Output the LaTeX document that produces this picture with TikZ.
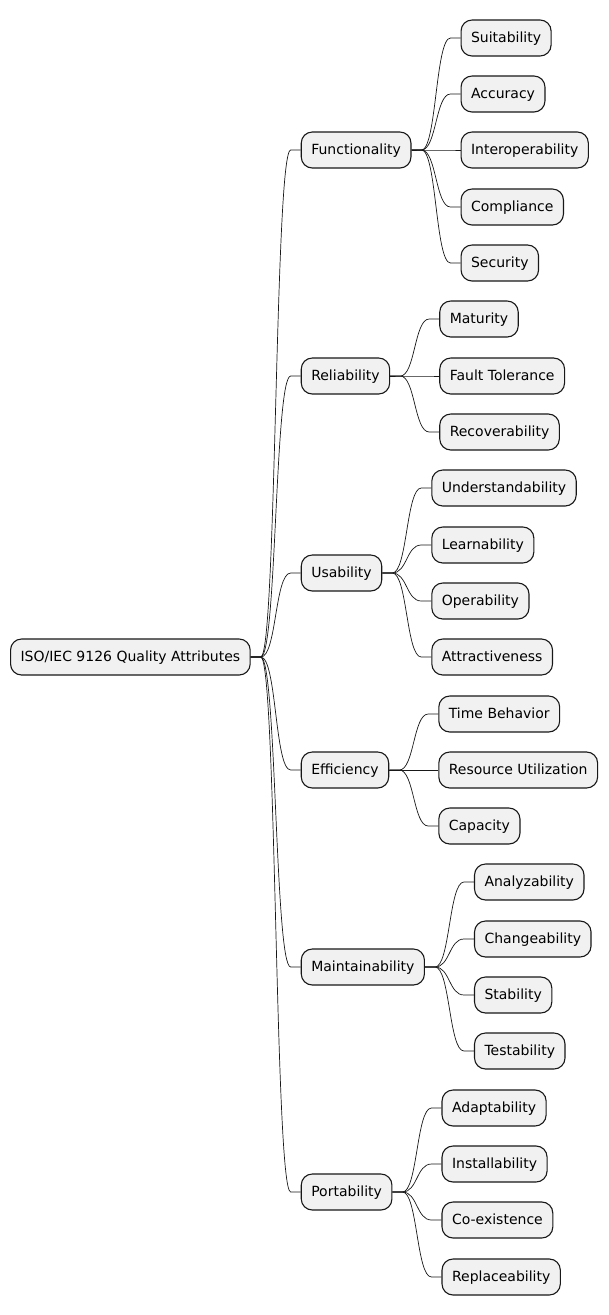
\documentclass[tikz,border=0pt]{standalone}
\usepackage{fontspec}
\setmainfont{DejaVu Sans}
\usetikzlibrary{calc}
\definecolor{NodeFill}{HTML}{F1F1F1}
\definecolor{Ink}{HTML}{181818}
\begin{document}
\begin{tikzpicture}[x=1pt,y=-1pt,every node/.style={font=\fontsize{14}{16}\selectfont,text=black},topic/.style={draw=Ink,fill=NodeFill,rounded corners=11pt,minimum height=36pt,text height=10.5pt,text depth=2.5pt,inner xsep=10pt,line width=1.1pt,anchor=west},link/.style={draw=Ink,line width=0.7pt}]
\fill[white] (0,0) rectangle (608,1315);
\useasboundingbox (0,0) rectangle (608,1315);
\node[topic] (root) at (10,657) {ISO/IEC 9126 Quality Attributes};
\coordinate (rx) at ([xshift=50pt]root.east);
% first level
\foreach \t/\y/\n in {Functionality/150/func,Reliability/376/reli,Usability/573/usab,Efficiency/770/effi,Maintainability/967/main,Portability/1192/port}{
  \node[topic] (\n) at (rx |- 0,\y) {\t};
  \draw[link] (root.east) -- ++(10,0) .. controls +(16,0) and +(-16,0) .. ([xshift=-10pt]\n.west) -- (\n.west);
}
% leaves, one column per parent
\foreach \p/\list in {func/{Suitability/38,Accuracy/94,Interoperability/150,Compliance/207,Security/263},reli/{Maturity/319,Fault Tolerance/376,Recoverability/432},usab/{Understandability/488,Learnability/545,Operability/601,Attractiveness/657},effi/{Time Behavior/714,Resource Utilization/770,Capacity/826},main/{Analyzability/882,Changeability/939,Stability/995,Testability/1051},port/{Adaptability/1108,Installability/1164,Co-existence/1220,Replaceability/1277}}{
  \coordinate (px) at ([xshift=49pt]\p.east);
  \foreach \t/\y in \list{
    \node[topic] (leaf) at (px |- 0,\y) {\t};
    \draw[link] (\p.east) -- ++(10,0) .. controls +(15,0) and +(-15,0) .. ([xshift=-10pt]leaf.west) -- (leaf.west);
  }
}
\end{tikzpicture}
\end{document}
